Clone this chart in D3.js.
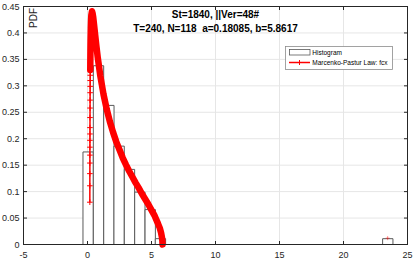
<!DOCTYPE html>
<html>
<head>
<meta charset="utf-8">
<script src="https://cdn.jsdelivr.net/npm/d3@7"></script>
<style>
  html, body { margin: 0; padding: 0; background: #fff; }
  svg { display: block; font-family: "Liberation Sans", Arial, sans-serif; }
</style>
</head>
<body>
<div id="chart"></div>
<script>
// histogram of eigenvalues: bin centres and density
const binCenters = [0.05, 0.86, 1.67, 2.47, 3.28, 4.09, 4.90, 5.70, 6.51, 7.32,
                    8.12, 8.93, 9.74, 10.54, 11.35, 12.16, 12.97, 13.77, 14.58, 15.39,
                    16.19, 17.00, 17.81, 18.61, 19.42, 20.23, 21.04, 21.84, 22.65, 23.46];
const binDensity = [0.175, 0.338, 0.263, 0.186, 0.142, 0.099, 0.066, 0.011, 0, 0,
                    0, 0, 0, 0, 0, 0, 0, 0, 0, 0,
                    0, 0, 0, 0, 0, 0, 0, 0, 0, 0.011];
const binWidth = 0.807;

// Marcenko-Pastur curve
const mpLambda = [0.1823, 0.1837, 0.1851, 0.1865, 0.1878, 0.1892, 0.1906, 0.192, 0.1934,
                  0.1962, 0.199, 0.2018, 0.2046, 0.2074, 0.2102, 0.213, 0.2158,
                  0.22, 0.23, 0.24, 0.26, 0.28, 0.30, 0.35, 0.40, 0.45, 0.50, 0.60, 0.70, 0.80,
                  1.00, 1.25, 1.50, 1.75, 2.00, 2.25, 2.50, 2.75, 3.00, 3.25, 3.50, 3.75,
                  4.00, 4.25, 4.50, 4.75, 5.00, 5.25, 5.50, 5.65, 5.75, 5.82, 5.85, 5.862];
const mpDensity = [0.080, 0.111, 0.134, 0.154, 0.169, 0.184, 0.197, 0.209, 0.221,
                   0.240, 0.258, 0.273, 0.287, 0.299, 0.310, 0.320, 0.330,
                   0.342, 0.366, 0.384, 0.409, 0.425, 0.434, 0.441, 0.437, 0.429, 0.418, 0.396, 0.374, 0.354,
                   0.319, 0.284, 0.256, 0.232, 0.212, 0.194, 0.179, 0.164, 0.151, 0.139, 0.128, 0.117,
                   0.107, 0.096, 0.086, 0.076, 0.065, 0.054, 0.040, 0.031, 0.022, 0.013, 0.007, 0];
// faint red mark on the outlier bar
const outlierMark = [[23.45, 0.012]];

const xTicks = [-5, 0, 5, 10, 15, 20, 25];
const yTicks = [0, 0.05, 0.1, 0.15, 0.2, 0.25, 0.3, 0.35, 0.4, 0.45];
const titleLines = ["St=1840, ||Ver=48#", "T=240, N=118  a=0.18085, b=5.8617"];
const legendLabels = ["Histogram", "Marcenko-Pastur Law: fcx"];

const width = 415, height = 261;
const axisColor = "#262626";

const x = d3.scaleLinear().domain([-5, 25]).range([23.5, 407.5]);
const y = d3.scaleLinear().domain([0, 0.45]).range([244.5, 6.5]);

const svg = d3.select("#chart").append("svg")
    .attr("width", width)
    .attr("height", height);

// grid
svg.append("g").selectAll("line").data(xTicks.slice(1, -1)).enter().append("line")
    .attr("x1", d => x(d)).attr("x2", d => x(d))
    .attr("y1", y(0)).attr("y2", y(0.45))
    .attr("stroke", "#e6e6e6");
svg.append("g").selectAll("line").data(yTicks.slice(1, -1)).enter().append("line")
    .attr("x1", x(-5)).attr("x2", x(25))
    .attr("y1", d => y(d)).attr("y2", d => y(d))
    .attr("stroke", "#e6e6e6");

// histogram bars (zero bars leave an edge on the baseline)
svg.append("g").selectAll("path").data(binCenters).enter().append("path")
    .attr("d", (c, i) => {
        const x0 = x(c - binWidth / 2), x1 = x(c + binWidth / 2);
        return `M${x0},${y(0)}V${y(binDensity[i])}H${x1}V${y(0)}Z`;
    })
    .attr("fill", "#fff")
    .attr("stroke", "#5a5a5a")
    .attr("stroke-width", 1);

// Marcenko-Pastur curve
const mp = mpLambda.map((l, i) => [l, mpDensity[i]]);
const line = d3.line().x(d => x(d[0])).y(d => y(d[1]));
const red = "#ff0000";

svg.append("path")
    .attr("d", line(mp))
    .attr("fill", "none")
    .attr("stroke", red)
    .attr("stroke-width", 1.5);

// dense markers form a thick band where the curve is not vertical
svg.append("path")
    .attr("d", line(mp.filter(d => d[0] >= 0.2158)))
    .attr("fill", "none")
    .attr("stroke", red)
    .attr("stroke-width", 6.5)
    .attr("stroke-linejoin", "round")
    .attr("stroke-linecap", "round");

const plus = (cx, cy, s) => `M${cx - s},${cy}H${cx + s}M${cx},${cy - s}V${cy + s}`;

svg.append("g").selectAll("path").data(mp.filter(d => d[0] < 0.2158)).enter().append("path")
    .attr("d", d => plus(x(d[0]), y(d[1]), 2.8))
    .attr("stroke", red)
    .attr("stroke-width", 1);

svg.append("g").selectAll("path").data(outlierMark).enter().append("path")
    .attr("d", d => plus(x(d[0]), y(d[1]), 2))
    .attr("stroke", red)
    .attr("stroke-opacity", 0.45)
    .attr("stroke-width", 1);

// axes box with inward ticks
const box = svg.append("g").attr("stroke", axisColor).attr("stroke-width", 1);
box.append("rect")
    .attr("x", x(-5)).attr("y", y(0.45))
    .attr("width", x(25) - x(-5)).attr("height", y(0) - y(0.45))
    .attr("fill", "none");
box.selectAll(".xt").data(xTicks).enter().append("path")
    .attr("d", d => `M${x(d)},${y(0)}v-3.5M${x(d)},${y(0.45)}v3.5`);
box.selectAll(".yt").data(yTicks).enter().append("path")
    .attr("d", d => `M${x(-5)},${y(d)}h3.5M${x(25)},${y(d)}h-3.5`);

svg.append("g").selectAll("text").data(xTicks).enter().append("text")
    .attr("x", d => x(d)).attr("y", 258.3)
    .attr("text-anchor", "middle")
    .attr("font-size", 9).attr("fill", axisColor)
    .text(d => d);

svg.append("g").selectAll("text").data(yTicks).enter().append("text")
    .attr("x", 19.5).attr("y", d => y(d)).attr("dy", "0.34em")
    .attr("text-anchor", "end")
    .attr("font-size", 9).attr("fill", axisColor)
    .text(d => d);

// y label sits inside the axes
svg.append("text")
    .attr("transform", "translate(36.5,18) rotate(-90)")
    .attr("text-anchor", "middle")
    .attr("font-size", 10).attr("fill", axisColor)
    .text("PDF");

// title
svg.append("g").selectAll("text").data(titleLines).enter().append("text")
    .attr("x", (x(-5) + x(25)) / 2)
    .attr("y", (d, i) => 18.3 + i * 14)
    .attr("text-anchor", "middle")
    .attr("font-size", 10).attr("font-weight", "bold")
    .style("white-space", "pre")
    .text(d => d);

// legend
const lg = svg.append("g");
lg.append("rect")
    .attr("x", 285.5).attr("y", 46.5).attr("width", 107).attr("height", 23)
    .attr("fill", "#fff").attr("stroke", "#8c8c8c").attr("stroke-width", 0.8);
lg.append("rect")
    .attr("x", 289.5).attr("y", 49.5).attr("width", 20.5).attr("height", 5.5)
    .attr("fill", "#fff").attr("stroke", "#5a5a5a").attr("stroke-width", 0.8);
lg.append("line")
    .attr("x1", 289).attr("x2", 310).attr("y1", 62.5).attr("y2", 62.5)
    .attr("stroke", red).attr("stroke-width", 1.5);
lg.append("path")
    .attr("d", plus(299.5, 62.5, 2.5))
    .attr("stroke", red).attr("stroke-width", 1);
lg.selectAll("text").data(legendLabels).enter().append("text")
    .attr("x", 312.3).attr("y", (d, i) => 54.8 + i * 10)
    .attr("font-size", 6.5).attr("fill", "#000")
    .text(d => d);
</script>
</body>
</html>
